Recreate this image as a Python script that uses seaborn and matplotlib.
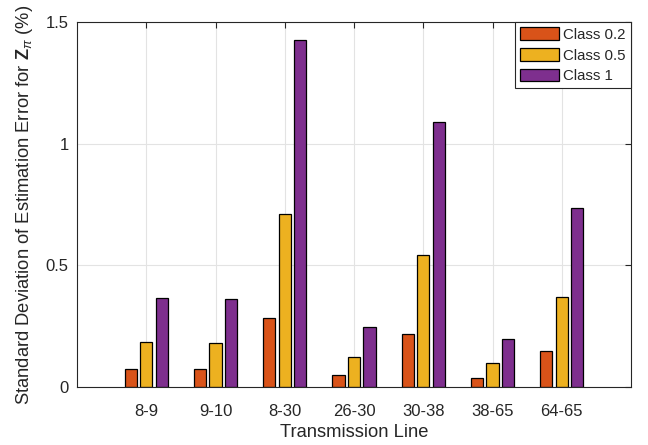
import pandas as pd
import seaborn as sns
import matplotlib.pyplot as plt

# data
lines = ['8-9', '9-10', '8-30', '26-30', '30-38', '38-65', '64-65']
class_02 = [0.073, 0.072, 0.284, 0.049, 0.218, 0.039, 0.147]
class_05 = [0.184, 0.180, 0.712, 0.122, 0.544, 0.097, 0.369]
class_1 = [0.367, 0.361, 1.426, 0.245, 1.089, 0.196, 0.736]
classes = ['Class 0.2', 'Class 0.5', 'Class 1']
y_ticks = [0, 0.5, 1, 1.5]
y_tick_labels = ['0', '0.5', '1', '1.5']

colors = ['#D95319', '#EDB120', '#7E2F8E']
axis_col = '#262626'

df = pd.DataFrame({
    'line': lines * 3,
    'cls': [classes[0]] * 7 + [classes[1]] * 7 + [classes[2]] * 7,
    'value': class_02 + class_05 + class_1,
})

sns.set_style('white')
plt.rcParams['font.family'] = ['Liberation Sans', 'DejaVu Sans']
plt.rcParams['mathtext.fontset'] = 'custom'
plt.rcParams['mathtext.rm'] = 'Liberation Sans'
plt.rcParams['mathtext.bf'] = 'Liberation Sans:bold'
plt.rcParams['mathtext.it'] = 'Liberation Sans:italic'

fig = plt.figure(figsize=(6.48, 4.45), dpi=100)
ax = fig.add_axes([77 / 648, 58 / 445, 554 / 648, 365 / 445])

sns.barplot(data=df, x='line', y='value', hue='cls', order=lines, hue_order=classes,
            palette=colors, width=0.672, gap=0.2, edgecolor='black', linewidth=0.9,
            saturation=1, ax=ax, zorder=3)

ax.set_xlim(-1, 7)
ax.set_ylim(0, 1.5)
ax.set_yticks(y_ticks)
ax.set_yticklabels(y_tick_labels)

ax.grid(True, color='#e3e3e3', linewidth=0.8, zorder=0)
ax.set_axisbelow(True)
for s in ax.spines.values():
    s.set_visible(True)
    s.set_color(axis_col)
    s.set_linewidth(0.8)
    s.set_zorder(5)

ax.tick_params(axis='both', direction='in', length=4, width=0.8, color=axis_col,
               labelcolor=axis_col, labelsize=12, top=True, right=True)
ax.tick_params(axis='x', pad=12)
ax.tick_params(axis='y', pad=6)

ax.set_xlabel('Transmission Line', fontsize=13.2, color=axis_col, labelpad=4)
ax.set_ylabel(r'Standard Deviation of Estimation Error for $\mathbf{Z}_{\pi}$ (%)',
              fontsize=13.2, color=axis_col, labelpad=8)

handles, labels = ax.get_legend_handles_labels()
leg = ax.legend(handles, labels, loc='upper right', bbox_to_anchor=(1, 1), borderaxespad=0,
                fontsize=10.8, frameon=True, fancybox=False, edgecolor=axis_col,
                framealpha=1, handlelength=2.6, handleheight=0.95, handletextpad=0.3,
                labelspacing=0.4, borderpad=0.35)
leg.get_frame().set_linewidth(0.8)
leg.set_zorder(10)

plt.savefig('out.png', dpi=100)
